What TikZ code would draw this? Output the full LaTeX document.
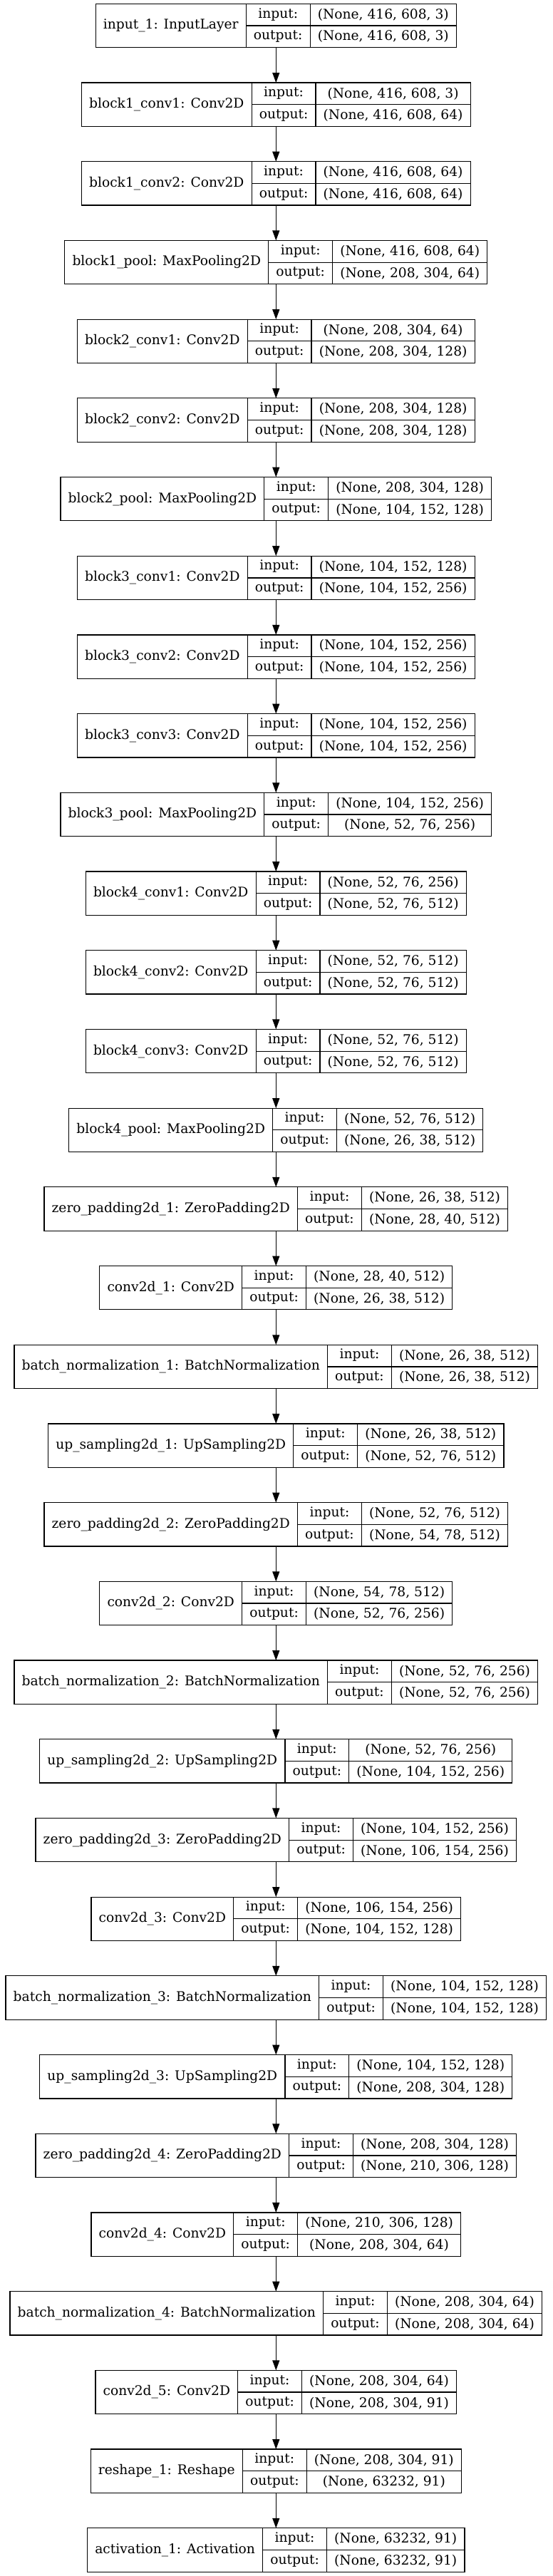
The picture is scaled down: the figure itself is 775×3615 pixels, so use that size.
\documentclass[tikz,border=0pt]{standalone}
\usepackage{fontspec}
\setmainfont{DejaVu Serif}
\usetikzlibrary{arrows.meta}
\newcommand\dvf{\fontsize{14pt}{16pt}\selectfont}
\newlength\mylw \newlength\myiw \newlength\mysw \newlength\mytmpw \newlength\mytotw
\tikzset{
  boxframe/.style={inner sep=0pt, outer sep=0pt, minimum height=46pt},
  field/.style={draw=black, line width=0.9pt, inner ysep=0pt, inner xsep=8pt, outer sep=0pt, font=\dvf, text=black},
  edge/.style={draw=black, line width=0.9pt, -{Triangle[length=10.5pt,width=7.5pt]}},
}
\newcommand\measurelayer[4]{%
  \settowidth\mylw{\dvf #2}\addtolength\mylw{16pt}%
  \settowidth\myiw{\dvf output:}\addtolength\myiw{16pt}%
  \settowidth\mysw{\dvf #3}\settowidth\mytmpw{\dvf #4}%
  \ifdim\mytmpw>\mysw \mysw=\mytmpw\fi
  \addtolength\mysw{16pt}%
  \mytotw=\mylw \advance\mytotw\myiw \advance\mytotw\mysw
  \expandafter\xdef\csname TW#1\endcsname{\the\mytotw}%
}
\newcommand\drawlayer[4]{%
  \node[boxframe, minimum width=\csname TW#1\endcsname] (b#1) at (387.3, {36.0+110.7*(#1-1)}) {};
  \node[field, minimum height=46pt, anchor=west] (l#1) at (b#1.west) {#2};
  \node[field, minimum height=23pt, anchor=north west] (i#1) at (l#1.north east) {\ooalign{\hfil\phantom{output:}\hfil\cr\hfil input:\hfil\cr}};
  \node[field, minimum height=23pt, anchor=north west] (o#1) at (i#1.south west) {output:};
  \node[field, minimum height=23pt, anchor=north west] (s#1) at (i#1.north east) {\ooalign{\hfil\phantom{#4}\hfil\cr\hfil #3\hfil\cr}};
  \node[field, minimum height=23pt, anchor=north west] (t#1) at (s#1.south west) {\ooalign{\hfil\phantom{#3}\hfil\cr\hfil #4\hfil\cr}};
}
\newcommand\alllayers{%
\LY{1}{input\_1: InputLayer}{(None, 416, 608, 3)}{(None, 416, 608, 3)}
\LY{2}{block1\_conv1: Conv2D}{(None, 416, 608, 3)}{(None, 416, 608, 64)}
\LY{3}{block1\_conv2: Conv2D}{(None, 416, 608, 64)}{(None, 416, 608, 64)}
\LY{4}{block1\_pool: MaxPooling2D}{(None, 416, 608, 64)}{(None, 208, 304, 64)}
\LY{5}{block2\_conv1: Conv2D}{(None, 208, 304, 64)}{(None, 208, 304, 128)}
\LY{6}{block2\_conv2: Conv2D}{(None, 208, 304, 128)}{(None, 208, 304, 128)}
\LY{7}{block2\_pool: MaxPooling2D}{(None, 208, 304, 128)}{(None, 104, 152, 128)}
\LY{8}{block3\_conv1: Conv2D}{(None, 104, 152, 128)}{(None, 104, 152, 256)}
\LY{9}{block3\_conv2: Conv2D}{(None, 104, 152, 256)}{(None, 104, 152, 256)}
\LY{10}{block3\_conv3: Conv2D}{(None, 104, 152, 256)}{(None, 104, 152, 256)}
\LY{11}{block3\_pool: MaxPooling2D}{(None, 104, 152, 256)}{(None, 52, 76, 256)}
\LY{12}{block4\_conv1: Conv2D}{(None, 52, 76, 256)}{(None, 52, 76, 512)}
\LY{13}{block4\_conv2: Conv2D}{(None, 52, 76, 512)}{(None, 52, 76, 512)}
\LY{14}{block4\_conv3: Conv2D}{(None, 52, 76, 512)}{(None, 52, 76, 512)}
\LY{15}{block4\_pool: MaxPooling2D}{(None, 52, 76, 512)}{(None, 26, 38, 512)}
\LY{16}{zero\_padding2d\_1: ZeroPadding2D}{(None, 26, 38, 512)}{(None, 28, 40, 512)}
\LY{17}{conv2d\_1: Conv2D}{(None, 28, 40, 512)}{(None, 26, 38, 512)}
\LY{18}{batch\_normalization\_1: BatchNormalization}{(None, 26, 38, 512)}{(None, 26, 38, 512)}
\LY{19}{up\_sampling2d\_1: UpSampling2D}{(None, 26, 38, 512)}{(None, 52, 76, 512)}
\LY{20}{zero\_padding2d\_2: ZeroPadding2D}{(None, 52, 76, 512)}{(None, 54, 78, 512)}
\LY{21}{conv2d\_2: Conv2D}{(None, 54, 78, 512)}{(None, 52, 76, 256)}
\LY{22}{batch\_normalization\_2: BatchNormalization}{(None, 52, 76, 256)}{(None, 52, 76, 256)}
\LY{23}{up\_sampling2d\_2: UpSampling2D}{(None, 52, 76, 256)}{(None, 104, 152, 256)}
\LY{24}{zero\_padding2d\_3: ZeroPadding2D}{(None, 104, 152, 256)}{(None, 106, 154, 256)}
\LY{25}{conv2d\_3: Conv2D}{(None, 106, 154, 256)}{(None, 104, 152, 128)}
\LY{26}{batch\_normalization\_3: BatchNormalization}{(None, 104, 152, 128)}{(None, 104, 152, 128)}
\LY{27}{up\_sampling2d\_3: UpSampling2D}{(None, 104, 152, 128)}{(None, 208, 304, 128)}
\LY{28}{zero\_padding2d\_4: ZeroPadding2D}{(None, 208, 304, 128)}{(None, 210, 306, 128)}
\LY{29}{conv2d\_4: Conv2D}{(None, 210, 306, 128)}{(None, 208, 304, 64)}
\LY{30}{batch\_normalization\_4: BatchNormalization}{(None, 208, 304, 64)}{(None, 208, 304, 64)}
\LY{31}{conv2d\_5: Conv2D}{(None, 208, 304, 64)}{(None, 208, 304, 91)}
\LY{32}{reshape\_1: Reshape}{(None, 208, 304, 91)}{(None, 63232, 91)}
\LY{33}{activation\_1: Activation}{(None, 63232, 91)}{(None, 63232, 91)}
}
\begin{document}
{\let\LY\measurelayer \alllayers}%
\begin{tikzpicture}[x=0.75pt, y=-0.75pt]
\useasboundingbox[fill=white] (0,0) rectangle (775,3615);
\let\LY\drawlayer
\alllayers
\foreach \a [evaluate=\a as \b using int(\a+1)] in {1,...,32}{
  \draw[edge] (b\a.south) -- (b\b.north);
}
\end{tikzpicture}
\end{document}
